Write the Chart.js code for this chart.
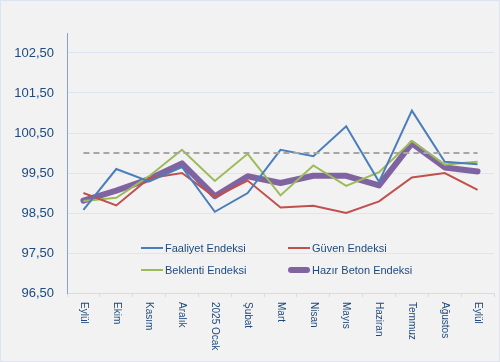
<!DOCTYPE html>
<html lang="tr">
<head>
<meta charset="UTF-8">
<title>Hazır Beton Endeksi</title>
<script src="https://cdn.jsdelivr.net/npm/chart.js"></script>
<style>
    body { margin: 0; padding: 0; background: #ffffff; }
    #wrap {
        width: 500px;
        height: 362px;
        box-sizing: border-box;
        border: 1px solid #dbe4f0;
        background: #f2f2f2;
        position: relative;
    }
    #chart { display: block; }
</style>
</head>
<body>
<div id="wrap"><canvas id="chart" width="498" height="360"></canvas></div>
<script>
// aylar
const months = ['Eylül', 'Ekim', 'Kasım', 'Aralık', '2025 Ocak', 'Şubat', 'Mart', 'Nisan', 'Mayıs', 'Haziran', 'Temmuz', 'Ağustos', 'Eylül'];

const faaliyet = [98.58, 99.60, 99.29, 99.65, 98.53, 99.00, 100.08, 99.92, 100.67, 99.28, 101.06, 99.78, 99.72];
const guven    = [99.00, 98.69, 99.37, 99.50, 98.90, 99.31, 98.64, 98.68, 98.50, 98.79, 99.39, 99.50, 99.08];
const beklenti = [98.80, 98.88, 99.42, 100.08, 99.30, 99.98, 98.94, 99.69, 99.18, 99.52, 100.30, 99.71, 99.78];
const hazir    = [98.81, 99.06, 99.35, 99.74, 98.92, 99.42, 99.25, 99.43, 99.43, 99.19, 100.24, 99.64, 99.54];
const esik     = [100, 100, 100, 100, 100, 100, 100, 100, 100, 100, 100, 100, 100];

const yTicks = [96.5, 97.5, 98.5, 99.5, 100.5, 101.5, 102.5];
const yMin = 96.5;
const yMax = 103;

const textColor = '#1f497d';
const font = "'Liberation Sans', Arial, sans-serif";

// legend (2x2, inside the plot) + rotated month labels
const customDraw = {
    id: 'customDraw',
    afterDraw(chart) {
        const ctx = chart.ctx;
        const x = chart.scales.x;
        ctx.save();
        ctx.fillStyle = textColor;
        ctx.font = '10px ' + font;
        ctx.textAlign = 'left';
        ctx.textBaseline = 'middle';
        months.forEach((m, i) => {
            const px = x.getPixelForValue(i);
            ctx.save();
            ctx.translate(px, x.top + 9);
            ctx.rotate(Math.PI / 2);
            ctx.fillText(m, 0, 0);
            ctx.restore();
        });

        const slots = [[140, 247], [287, 247], [140, 269], [287, 269]];
        const order = [1, 2, 3, 4];
        ctx.font = '11px ' + font;
        order.forEach((di, k) => {
            const ds = chart.data.datasets[di];
            const [lx, ly] = slots[k];
            const thick = ds.borderWidth > 3;
            ctx.strokeStyle = ds.borderColor;
            ctx.lineWidth = ds.borderWidth;
            ctx.lineCap = thick ? 'round' : 'butt';
            ctx.beginPath();
            ctx.moveTo(lx + (thick ? 3 : 0), ly);
            ctx.lineTo(lx + 22 - (thick ? 3 : 0), ly);
            ctx.stroke();
            ctx.fillStyle = textColor;
            ctx.fillText(ds.label, lx + 24, ly + 1);
        });
        ctx.restore();
    }
};

const line = (label, data, color, width) => ({
    label: label,
    data: data,
    borderColor: color,
    borderWidth: width,
    pointRadius: 0,
    tension: 0,
    fill: false
});

new Chart(document.getElementById('chart'), {
    type: 'line',
    data: {
        labels: months,
        datasets: [
            Object.assign(line('Eşik', esik, '#a6a6a6', 2), { borderDash: [6, 4] }),
            line('Faaliyet Endeksi', faaliyet, '#4a7ebb', 2),
            line('Güven Endeksi', guven, '#c0504d', 2),
            line('Beklenti Endeksi', beklenti, '#9bbb59', 2),
            Object.assign(line('Hazır Beton Endeksi', hazir, '#8064a2', 6), {
                borderCapStyle: 'round',
                borderJoinStyle: 'round'
            })
        ]
    },
    options: {
        responsive: false,
        animation: false,
        layout: { padding: { top: 32, right: 5, left: 0, bottom: 0 } },
        plugins: {
            legend: { display: false },
            tooltip: { enabled: false }
        },
        scales: {
            x: {
                offset: true,
                afterFit: (s) => { s.height = 68; },
                ticks: { display: false },
                grid: {
                    offset: true,
                    drawOnChartArea: false,
                    drawTicks: true,
                    tickLength: 4,
                    color: '#d3dceb'
                },
                border: { color: '#d3dceb', width: 1 }
            },
            y: {
                min: yMin,
                max: yMax,
                afterFit: (s) => { s.width = 66; },
                afterBuildTicks: (s) => { s.ticks = yTicks.map(v => ({ value: v })); },
                ticks: {
                    padding: 13,
                    color: textColor,
                    font: { family: font, size: 13 },
                    callback: (v) => v.toFixed(2).replace('.', ',')
                },
                grid: { color: '#dce6f2', drawTicks: false, lineWidth: 1 },
                border: { color: '#86a3cf', width: 1 }
            }
        }
    },
    plugins: [customDraw]
});
</script>
</body>
</html>
